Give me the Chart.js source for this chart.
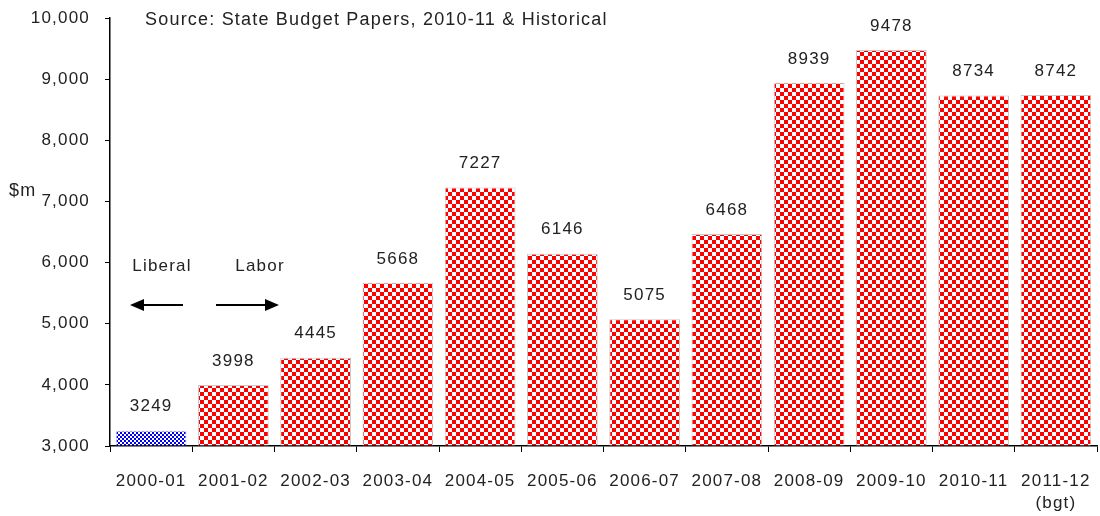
<!DOCTYPE html>
<html>
<head>
<meta charset="utf-8">
<script src="https://cdn.jsdelivr.net/npm/chart.js@4"></script>
<style>
  body { margin: 0; background: #fff; }
  #wrap { width: 1100px; height: 516px; }
</style>
</head>
<body>
<div id="wrap"><canvas id="barChart"></canvas></div>
<script>
// data
const years = ['2000-01', '2001-02', '2002-03', '2003-04', '2004-05', '2005-06',
  '2006-07', '2007-08', '2008-09', '2009-10', '2010-11', ['2011-12', '(bgt)']];
const spending = [3249, 3998, 4445, 5668, 7227, 6146, 5075, 6468, 8939, 9478, 8734, 8742];
const yTicks = [3000, 4000, 5000, 6000, 7000, 8000, 9000, 10000];

const FONT = "'Liberation Sans', Arial, sans-serif";

// checker patterns
function checker(color, cell) {
  const c = document.createElement('canvas');
  c.width = cell * 2;
  c.height = cell * 2;
  const g = c.getContext('2d');
  g.fillStyle = '#fff';
  g.fillRect(0, 0, c.width, c.height);
  g.fillStyle = color;
  g.fillRect(0, 0, cell, cell);
  g.fillRect(cell, cell, cell, cell);
  return g.createPattern(c, 'repeat');
}
const ctx = document.getElementById('barChart').getContext('2d');
const redCheck = checker('#ff0000', 4);
const blueCheck = checker('#0000ff', 2);

// wider letter spacing, like the original's Windows text rendering
const spacing = {
  id: 'spacing',
  beforeDraw(chart) { chart.ctx.letterSpacing = '1.2px'; }
};

// labels over bars, source note, party arrows
const extras = {
  id: 'extras',
  afterDatasetsDraw(chart) {
    const c = chart.ctx;
    const meta = chart.getDatasetMeta(0);
    c.save();
    c.letterSpacing = '1.2px';
    c.fillStyle = '#222';
    c.font = '17px ' + FONT;
    c.textAlign = 'center';
    c.textBaseline = 'middle';
    meta.data.forEach((bar, i) => {
      c.fillText(spending[i], bar.x, bar.y - 24);
    });

    c.textAlign = 'left';
    c.font = '18px ' + FONT;
    c.fillText('Source: State Budget Papers, 2010-11 & Historical', 145, 20);
    c.fillText('$m', 9, 191);

    c.font = '17px ' + FONT;
    c.textAlign = 'center';
    c.fillText('Liberal', 162, 266);
    c.fillText('Labor', 260, 266);

    // arrows
    c.strokeStyle = '#000';
    c.fillStyle = '#000';
    c.lineWidth = 2;
    c.beginPath();
    c.moveTo(183, 305); c.lineTo(142, 305);
    c.moveTo(216, 305); c.lineTo(267, 305);
    c.stroke();
    c.beginPath();
    c.moveTo(130, 305); c.lineTo(144, 299); c.lineTo(144, 311); c.closePath();
    c.fill();
    c.beginPath();
    c.moveTo(279, 305); c.lineTo(265, 299); c.lineTo(265, 311); c.closePath();
    c.fill();
    c.restore();
  }
};

new Chart(ctx, {
  type: 'bar',
  data: {
    labels: years,
    datasets: [{
      data: spending,
      backgroundColor: spending.map((v, i) => i === 0 ? blueCheck : redCheck),
      borderColor: '#c8c8c8',
      borderWidth: 1,
      barPercentage: 0.86,
      categoryPercentage: 1,
      base: 3000
    }]
  },
  options: {
    responsive: true,
    maintainAspectRatio: false,
    animation: false,
    layout: {
      padding: { top: 18, right: 3, left: 0, bottom: 0 }
    },
    plugins: {
      legend: { display: false },
      tooltip: { enabled: false }
    },
    scales: {
      x: {
        offset: true,
        grid: {
          offset: true,
          drawOnChartArea: false,
          drawTicks: true,
          tickLength: 6,
          color: '#000'
        },
        border: { color: '#000', width: 1.5 },
        ticks: {
          color: '#222',
          padding: 19,
          maxRotation: 0,
          autoSkip: false,
          font: { family: FONT, size: 17, lineHeight: 1.25 }
        },
        afterFit(scale) {
          scale.height = 70;
          scale.paddingLeft = 0;
          scale.paddingRight = 0;
        }
      },
      y: {
        min: 3000,
        max: 10000,
        afterBuildTicks(scale) {
          scale.ticks = yTicks.map(v => ({ value: v }));
        },
        grid: {
          drawOnChartArea: false,
          tickLength: 5,
          color: '#000'
        },
        border: { color: '#000', width: 1.5 },
        ticks: {
          color: '#222',
          padding: 15,
          font: { family: FONT, size: 17 },
          callback: v => v.toLocaleString('en-US')
        },
        afterFit(scale) {
          scale.width = 110;
          scale.paddingTop = 0;
          scale.paddingBottom = 0;
        }
      }
    }
  },
  plugins: [spacing, extras]
});
</script>
</body>
</html>
